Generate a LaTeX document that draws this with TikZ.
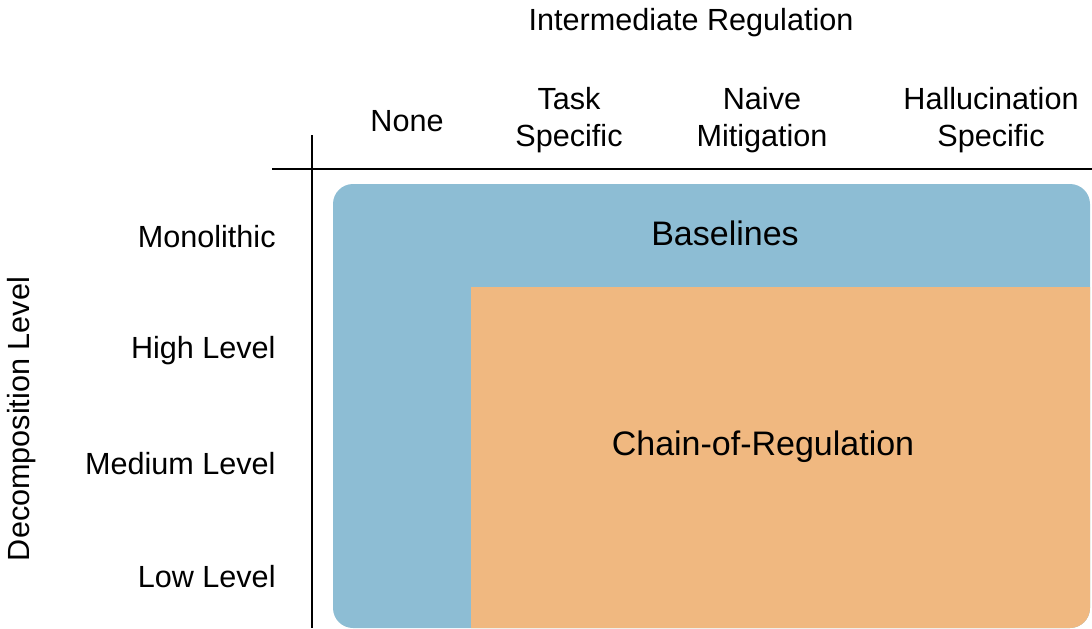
\documentclass[tikz,border=0pt]{standalone}
\usepackage{fontspec}
\setmainfont{Liberation Sans}
\usetikzlibrary{positioning}

\definecolor{baseblue}{HTML}{8DBDD4}
\definecolor{chainorange}{HTML}{F0B880}

\begin{document}
\begin{tikzpicture}[
    x=0.5pt, y=-0.5pt,
    % GLOBAL CFG
    font=\fontsize{15.3}{18.5}\selectfont,
    % Styles
    colhead/.style={% For the column headers
        align=center,
        inner sep=0pt,
        },
    rowhead/.style={% For the row headers
        anchor=east,
        inner sep=0pt,
        },
    region/.style={% For the coloured areas
        font=\fontsize{17}{20}\selectfont,
        inner sep=0pt,
        },
    axis/.style={% The two axis lines
        line width=1pt,
        },
    ]

    \useasboundingbox (0,0) rectangle (1092,628);

    % Draw the coloured regions
    \node [fill=baseblue, rounded corners=10pt, minimum width=378.5pt, minimum height=222pt, inner sep=0pt] (base_box) at (711.5,406) {};
    \fill [chainorange] (471,287) coordinate (chain_nw) -- (1090,287)
        [rounded corners=10pt] -- (1090,628) [sharp corners] -- (471,628) -- cycle;

    \node [region] (baselines) at (725,233) {Baselines};
    \node [region] (chain) at (763,447) {Chain-of-Regulation};

    % Draw the axes
    \coordinate (v_top) at (312,135);
    \coordinate (v_bot) at (312,628);
    \coordinate (h_left) at (272,169);
    \coordinate (h_right) at (1092,169);
    \draw [axis] (v_top) -- (v_bot);
    \draw [axis] (h_left) -- (h_right);

    % Column headers
    \node [colhead] (reg_title) at (691,23) {Intermediate Regulation};
    \node [colhead] (col_none) at (407,121) {None};
    \node [colhead] (col_task) at (569,120) {Task\\Specific};
    \node [colhead] (col_naive) at (762,120) {Naive\\Mitigation};
    \node [colhead] (col_hall) at (991,120) {Hallucination\\Specific};

    % Row headers
    \node [rowhead] (row_mono) at (276,237) {Monolithic};
    \node [rowhead] (row_high) at (276,351) {High Level};
    \node [rowhead] (row_med) at (276,464) {Medium Level};
    \node [rowhead] (row_low) at (276,577) {Low Level};
    \node [colhead, rotate=90] (dec_title) at (22,419) {Decomposition Level};

\end{tikzpicture}
\end{document}
